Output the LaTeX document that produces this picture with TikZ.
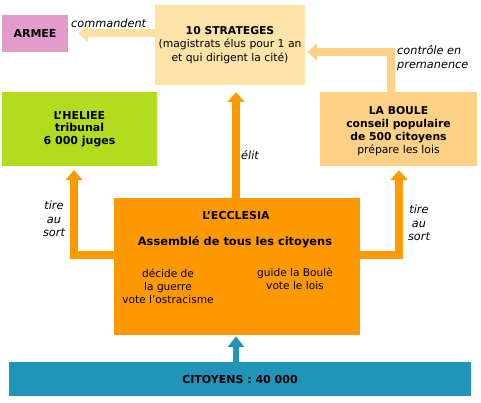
\documentclass[tikz,border=0pt]{standalone}
\usepackage{fontspec}
\setmainfont{DejaVu Sans}
\usetikzlibrary{arrows.meta,calc}
\definecolor{pinkc}{HTML}{E39BCB}
\definecolor{strc}{HTML}{FCE3A7}
\definecolor{strarr}{HTML}{FDE0A2}
\definecolor{limec}{HTML}{B4DC1F}
\definecolor{boulec}{HTML}{FDD186}
\definecolor{orangec}{HTML}{FF9900}
\definecolor{bluec}{HTML}{2194B9}
\tikzset{
  box/.style={rectangle, inner sep=0pt, align=center, font=\fontsize{10.8}{13.5}\selectfont},
  lbl/.style={font=\fontsize{11.3}{13.5}\selectfont\itshape, align=center, inner sep=0pt},
  oarr/.style={draw=orangec, line width=8pt, -{Triangle[width=17pt,length=10pt]}},
}
\begin{document}
\begin{tikzpicture}[x=1pt,y=-1pt]
\useasboundingbox (0,0) rectangle (481,403);
% boxes
\node[box, fill=pinkc, minimum width=66pt, minimum height=37pt, font=\fontsize{11}{13}\selectfont] (arm) at (35,33.5) {\textbf{ARMEE}};
\node[box, fill=strc, minimum width=150pt, minimum height=80pt] (str) at (230,45) {\textbf{10 STRATEGES}\\(magistrats élus pour 1 an\\et qui dirigent la cité)};
\node[box, fill=limec, minimum width=155pt, minimum height=74pt, font=\fontsize{11}{12.7}\selectfont] (hel) at (79.5,129) {\textbf{L'HELIEE}\\\textbf{tribunal}\\\textbf{6 000 juges}};
\node[box, fill=boulec, minimum width=157pt, minimum height=74pt] (bou) at (398.5,129) {};
\node[box, font=\fontsize{10.8}{13}\selectfont] (boutxt) at (398.5,131.5) {\textbf{LA BOULE}\\\textbf{conseil populaire}\\\textbf{de 500 citoyens}\\prépare les lois};
\node[rectangle, fill=orangec, minimum width=246pt, minimum height=137pt, inner sep=0pt] (ecc) at (237,266.5) {};
\node[box, fill=bluec, minimum width=462pt, minimum height=34pt, font=\fontsize{11}{13}\selectfont] (cit) at (240,379) {\textbf{CITOYENS : 40 000}};
% texts inside ecclesia
\node[box, font=\fontsize{11}{13}\selectfont\bfseries] (t1) at (236,215) {L'ECCLESIA};
\node[box, font=\fontsize{11.4}{13}\selectfont\bfseries] (t2) at (235,242) {Assemblé de tous les citoyens};
\node[box, font=\fontsize{10.6}{13}\selectfont] (t3) at (168,286) {décide de\\la guerre\\vote l'ostracisme};
\node[box, font=\fontsize{10.6}{13}\selectfont] (t4) at (295,279) {guide la Boulè\\vote le lois};
% arrows
\draw[draw=strarr, line width=8pt, -{Triangle[width=17pt,length=10pt]}] (str.west |- arm.east) -- ($(arm.east)+(10,0)$);
\draw[draw=boulec, line width=8pt, -{Triangle[width=17pt,length=10pt]}] (bou.north -| 391,0) |- ($(str.east |- 0,52)+(2,0)$);
\draw[oarr] (ecc.north -| 236,0) -- ($(str.south -| 236,0)+(0,7)$);
\draw[oarr] (ecc.west |- 0,255) -| ($(hel.south -| 74,0)+(0,4)$);
\draw[oarr] (ecc.east |- 0,255) -| ($(bou.south -| 399,0)+(0,4)$);
\draw[draw=bluec, line width=6pt, -{Triangle[width=16pt,length=11pt]}] (cit.north -| 236,0) -- ($(ecc.south -| 236,0)+(0,1)$);
% labels
\node[lbl, anchor=west] (l1) at (71,23) {commandent};
\node[lbl, anchor=west, align=left] (l2) at (397,58) {contrôle en\\premanence};
\node[lbl, anchor=west] (l3) at (241,155) {élit};
\node[lbl] (l4) at (54,219) {tire\\au\\sort};
\node[lbl] (l5) at (419,223) {tire\\au\\sort};
\end{tikzpicture}
\end{document}
